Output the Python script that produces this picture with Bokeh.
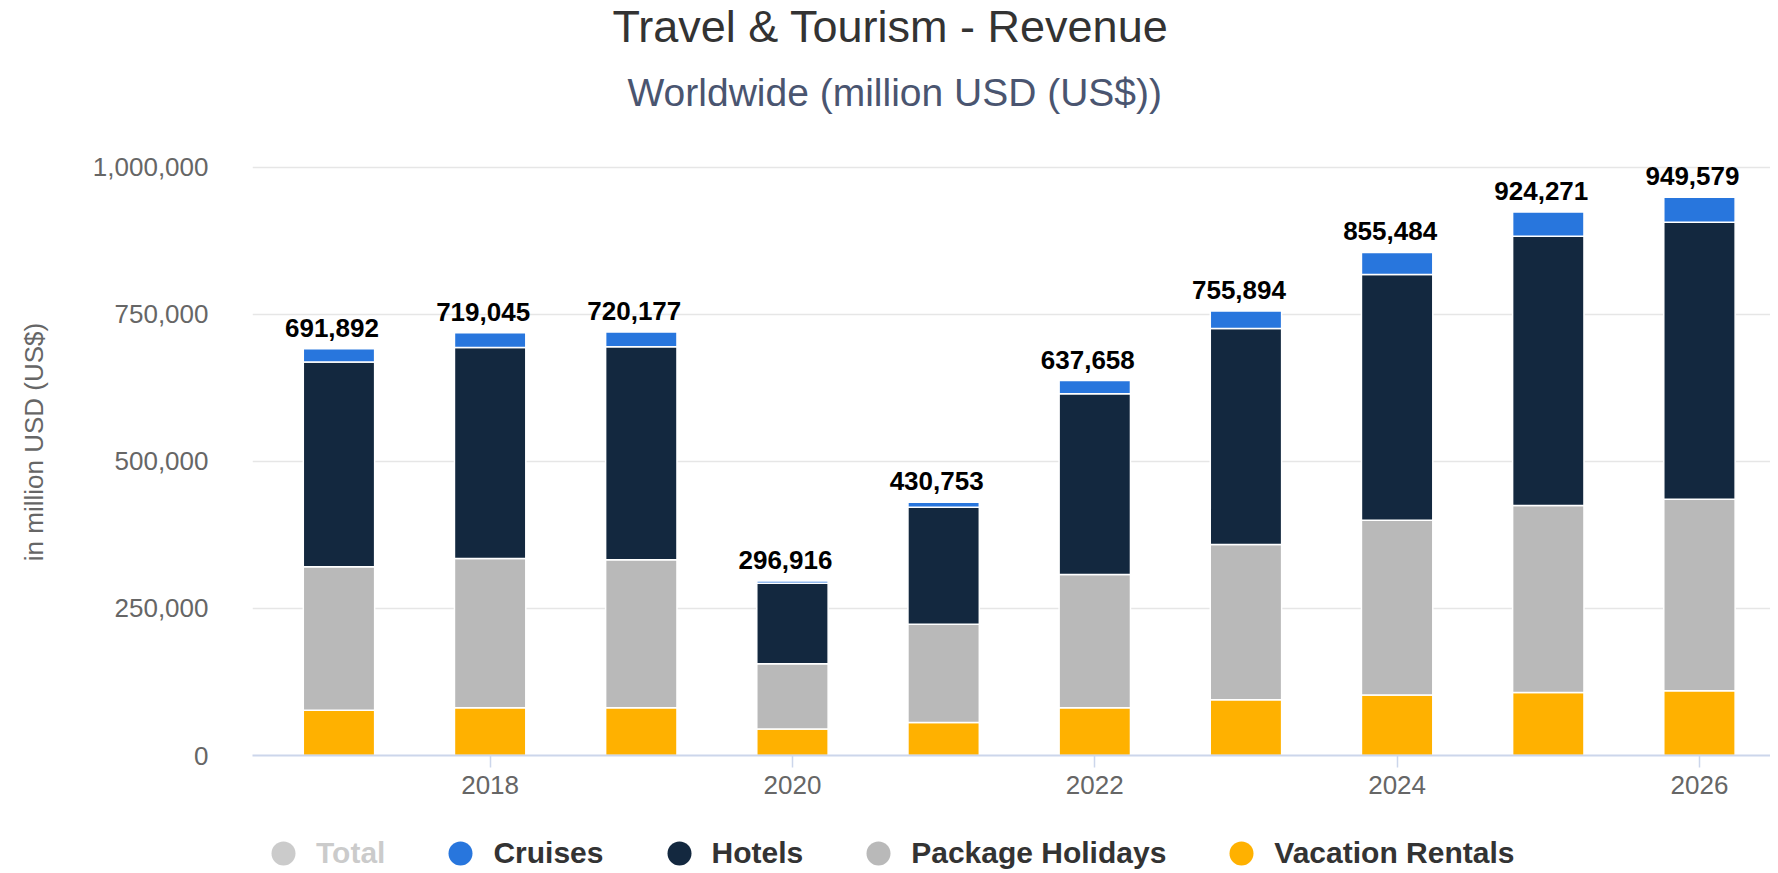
from bokeh.plotting import figure
from bokeh.layouts import column
from bokeh.models import (ColumnDataSource, Range1d, FixedTicker, NumeralTickFormatter,
                          Legend, LegendItem, Title)
from bokeh.core.properties import value
from bokeh.embed import file_html
from bokeh.resources import INLINE

# ---- data (million USD) ----
years = [2017, 2018, 2019, 2020, 2021, 2022, 2023, 2024, 2025, 2026]
vacation_rentals = [77000, 81000, 81000, 45000, 56000, 81000, 95000, 103000, 107000, 110000]
package_holidays = [244000, 254000, 252000, 111000, 167000, 227000, 264000, 297000, 318000, 326000]
hotels = [348000, 359000, 362000, 137000, 199000, 307000, 367000, 418000, 458000, 471000]
cruises = [22892, 25045, 25177, 3916, 8753, 22658, 29894, 37484, 41271, 42579]
totals = [691892, 719045, 720177, 296916, 430753, 637658, 755894, 855484, 924271, 949579]
x_ticks = [2018, 2020, 2022, 2024, 2026]
y_ticks = [0, 250000, 500000, 750000, 1000000]
series_names = ["Total", "Cruises", "Hotels", "Package Holidays", "Vacation Rentals"]

FONT = "Liberation Sans"
C_CRU, C_HOT, C_PKG, C_VAC = "#2876dd", "#13283f", "#b9b9b9", "#ffb100"

src = ColumnDataSource(dict(
    year=years, vac=vacation_rentals, pkg=package_holidays, hot=hotels, cru=cruises,
    total=totals, label=[f"{t:,}" for t in totals],
))

# ---------------- main chart ----------------
p = figure(width=1770, height=820, output_backend="svg", toolbar_location=None,
           x_range=Range1d(2016.428, 2026.47), y_range=Range1d(0, 1066300),
           min_border_left=252, min_border_right=0, min_border_top=100, min_border_bottom=65)
p.outline_line_color = None
p.background_fill_color = "white"
p.border_fill_color = "white"

p.vbar_stack(["vac", "pkg", "hot", "cru"], x="year", width=0.472, source=src,
             color=[C_VAC, C_PKG, C_HOT, C_CRU], line_color="white", line_width=1.5)

p.text(x="year", y="total", text="label", source=src, text_align="center",
       text_baseline="alphabetic", y_offset=-21, x_offset=-7,
       text_font=value(FONT), text_font_style="bold", text_font_size="26px",
       text_color="#000000")

p.xaxis.ticker = FixedTicker(ticks=x_ticks)
p.xaxis.axis_line_color = "#ccd6eb"
p.xaxis.axis_line_width = 2
p.xaxis.major_tick_line_color = "#ccd6eb"
p.xaxis.major_tick_line_width = 1.5
p.xaxis.major_tick_out = 12
p.xaxis.major_tick_in = 0
p.xaxis.minor_tick_line_color = None
p.xaxis.major_label_text_font = FONT
p.xaxis.major_label_text_font_size = "26px"
p.xaxis.major_label_text_color = "#666666"
p.xaxis.major_label_standoff = 8

p.yaxis.ticker = FixedTicker(ticks=y_ticks)
p.yaxis.formatter = NumeralTickFormatter(format="0,0")
p.yaxis.axis_line_color = None
p.yaxis.major_tick_line_color = None
p.yaxis.minor_tick_line_color = None
p.yaxis.major_label_text_font = FONT
p.yaxis.major_label_text_font_size = "26px"
p.yaxis.major_label_text_color = "#666666"
p.yaxis.major_label_standoff = 38
p.yaxis.axis_label = "in million USD (US$)"
p.yaxis.axis_label_text_font = FONT
p.yaxis.axis_label_text_font_size = "26px"
p.yaxis.axis_label_text_font_style = "normal"
p.yaxis.axis_label_text_color = "#666666"
p.yaxis.axis_label_standoff = 41

p.xgrid.grid_line_color = None
p.ygrid.grid_line_color = "#e6e6e6"
p.ygrid.grid_line_width = 1.5

# titles (first added sits closest to the plot area)
p.add_layout(Title(text="Worldwide (million USD (US$))", align="left", offset=375,
                   vertical_align="bottom",
                   text_font=FONT, text_font_size="39px", text_font_style="normal",
                   text_color="#4a5570", standoff=30), "above")
p.add_layout(Title(text="Travel & Tourism - Revenue", align="left", offset=360,
                   vertical_align="top",
                   text_font=FONT, text_font_size="45px", text_font_style="normal",
                   text_color="#333333", standoff=0), "above")

# ---------------- legend strip ----------------
q = figure(width=1770, height=50, output_backend="svg", toolbar_location=None,
           x_range=Range1d(0, 1), y_range=Range1d(0, 1),
           min_border_left=0, min_border_right=0, min_border_top=0, min_border_bottom=0)
q.axis.visible = False
q.grid.grid_line_color = None
q.outline_line_color = None

# legend renderers (their points lie outside this strip's ranges, so only the legend shows)
tot_r = q.scatter(x="year", y="total", source=src, size=10, fill_color="#333333",
                  line_color=None)
tot_r.visible = False
prox = {}
for name, col, fld in [("Cruises", C_CRU, "cru"), ("Hotels", C_HOT, "hot"),
                       ("Package Holidays", C_PKG, "pkg"), ("Vacation Rentals", C_VAC, "vac")]:
    prox[name] = q.scatter(x="year", y=fld, source=src, fill_color=col, line_color=None, size=10)

items = [LegendItem(label=series_names[0], renderers=[tot_r])] + \
        [LegendItem(label=n, renderers=[prox[n]]) for n in series_names[1:]]
legend = Legend(items=items, orientation="horizontal", location=(1, -13),
                glyph_width=60, glyph_height=60, label_height=60, label_standoff=3, spacing=45,
                padding=0, margin=0, border_line_color=None, background_fill_alpha=0,
                label_text_font=FONT, label_text_font_style="bold",
                label_text_font_size="30px", label_text_color="#333333",
                click_policy="hide", inactive_fill_color="white", inactive_fill_alpha=0.75)
q.add_layout(legend, "center")

layout = column(p, q, spacing=0)
open("out.html", "w").write(file_html(layout, INLINE))
